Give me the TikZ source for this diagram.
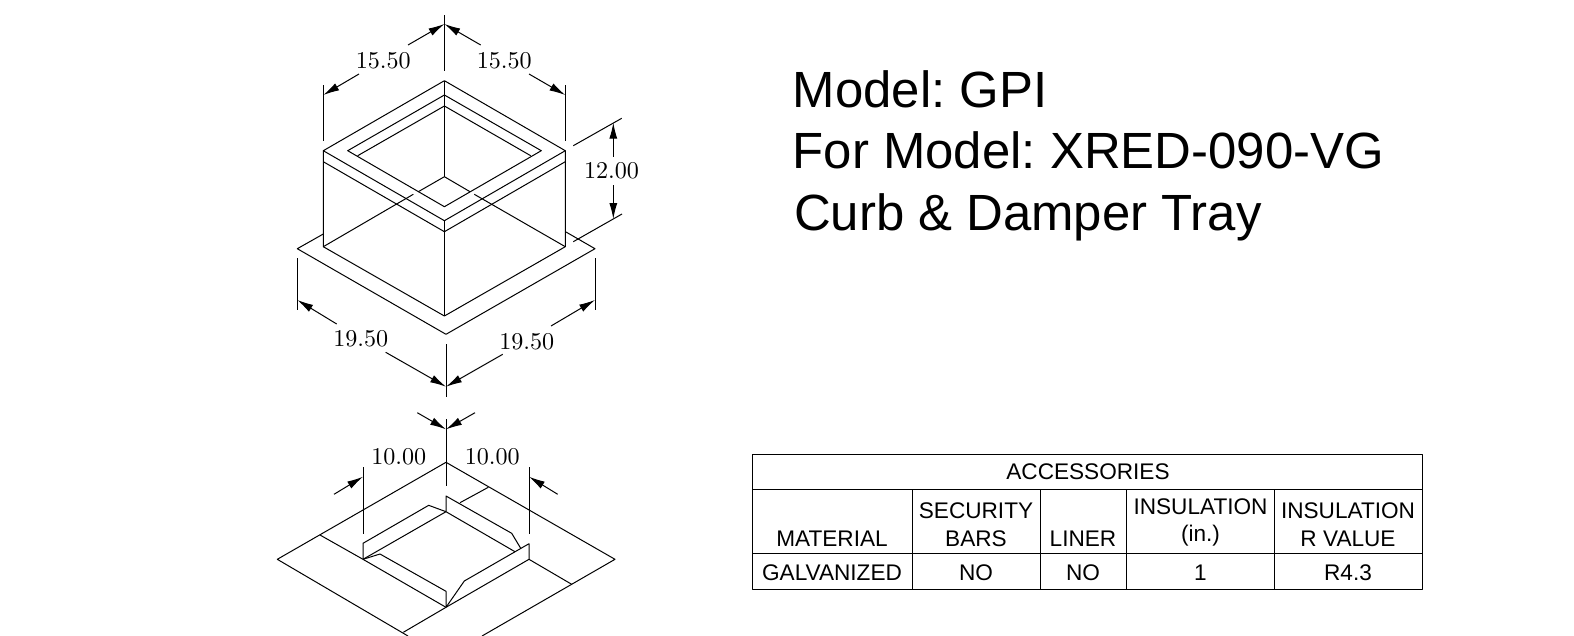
\documentclass[tikz,border=0pt]{standalone}
\usepackage{fontspec}
\setsansfont{Liberation Sans}
\usetikzlibrary{arrows.meta}
\newcommand{\dimval}[1]{\scalebox{2.41}{#1}}
\tikzset{
  dimline/.style={line width=1pt,{Latex[length=16pt,width=8pt]}-},
  dimtext/.style={font=\fontsize{10}{12}\selectfont,inner sep=0pt},
  titletext/.style={font=\fontsize{50.9}{51}\selectfont\sffamily\frenchspacing,anchor=base west,inner sep=0pt},
  celltext/.style={font=\fontsize{22.6}{26}\selectfont\sffamily,anchor=base,inner sep=0pt},
}
\begin{document}
\begin{tikzpicture}[x=1pt,y=-1pt,line width=1pt,line join=round]
\useasboundingbox (0,0) rectangle (1574,635);
\clip (0,0) rectangle (1574,635);
% curb
\coordinate (T) at (444.4,80.7);
\coordinate (L) at (323.3,150.7);
\coordinate (R) at (565.3,150.7);
\coordinate (B) at (444.4,220.7);
\coordinate (C) at (444.4,176.7);
\draw (T) -- (L) -- (B) -- (R) -- cycle;
\draw (444.4,95) -- (347.7,150.7) -- (444.4,206.7) -- (541.3,150.7) -- cycle;
\draw (357.7,155.7) -- (444.4,106) -- (530.7,155.7);
\draw (T) -- (C);
\draw (418.3,191.7) -- (C) -- (470,191.7);
\draw (413.3,194.3) -- (323.3,246.7);
\draw (474.3,194.3) -- (565.3,246.7);
\draw (L) -- (323.3,246.7) -- (444.4,316) -- (565.3,246.7) -- (R);
\draw (323.3,161.7) -- (444.4,231.7) -- (565.3,161.7);
\draw (B) -- (444.4,316);
% flange
\draw (323.3,234) -- (297.3,248.7) -- (446,334.3) -- (595,248.7) -- (566,232);
% dimensions top
\draw (444.4,15) -- (444.4,71);
\draw (323.3,85) -- (323.3,141);
\draw (565.3,85) -- (565.3,141);
\draw [dimline] (444.4,24) -- (408,45);
\draw [dimline] (444.4,24) -- (480.7,45);
\draw [dimline] (323.3,95) -- (359,74);
\draw [dimline] (565.3,95) -- (529,74);
\node [dimtext] (wleft) at (383.3,60.5) {\dimval{15.50}};
\node [dimtext] (wright) at (504.3,60.5) {\dimval{15.50}};
% height
\draw (573.3,145.7) -- (621.7,118.3);
\draw (573.3,241.7) -- (622,214);
\draw [dimline] (613.3,122.7) -- (613.3,156.7);
\draw [dimline] (613.3,219) -- (613.3,185);
\node [dimtext] (height) at (611.5,171) {\dimval{12.00}};
% dimensions flange
\draw (297.3,258.3) -- (297.3,310);
\draw (595,258.3) -- (595,310);
\draw (446,344.3) -- (446,396.7);
\draw [dimline] (297.3,300) -- (336.7,324);
\draw [dimline] (446,386.7) -- (385.7,352.3);
\draw [dimline] (446,386.7) -- (502.7,354.3);
\draw [dimline] (595,300) -- (551,326);
\node [dimtext] (fleft) at (360.7,338.3) {\dimval{19.50}};
\node [dimtext] (fright) at (526.7,341.7) {\dimval{19.50}};
% damper tray
\draw (408,636) -- (277.3,559.3) -- (446,462.3) -- (615,559.3) -- (482,636);
\draw (320,535) -- (363,559.3) -- (446,607.3) -- (529,559.3) -- (571.7,584.3);
\draw (403.3,632.3) -- (446,607.3);
\draw (363,559.3) -- (446,511.7) -- (515,551.7);
\draw (460,502.7) -- (488.3,487.3);
\draw (363,559.3) -- (363,543.3) -- (428.7,505.3) -- (446,511.7) -- (446,496) -- (511.7,533.3) -- (520.7,548.3);
\draw (363,559.3) -- (380,554) -- (446,591.3) -- (446,607.3) -- (464.3,581) -- (529,543.7) -- (529,559.3);
% dimensions tray
\draw (446,419.3) -- (446,486);
\draw (363,467.3) -- (363,534.3);
\draw (529,467.3) -- (529,534.3);
\draw [dimline] (446,429.3) -- (417.3,412.7);
\draw [dimline] (446,429.3) -- (475,412.7);
\draw [dimline] (363,476.7) -- (334,494.3);
\draw [dimline] (529,476.7) -- (557.7,494.3);
\node [dimtext] (tleft) at (398.8,456.5) {\dimval{10.00}};
\node [dimtext] (tright) at (492.2,456.5) {\dimval{10.00}};
% title
\node [titletext] (model) at (792.3,107.5) {Model: GPI};
\node [titletext] (formodel) at (792.3,168.5) {For Model: XRED-090-VG};
\node [titletext] (tray) at (793.5,230.5) {Curb \& Damper Tray};
% table
\draw (752.5,454.5) rectangle (1422.6,589.5);
\draw (752.5,489.5) -- (1422.6,489.5);
\draw (752.5,553.5) -- (1422.6,553.5);
\foreach \x in {912.5,1040.5,1126.8,1274.5} \draw (\x,489.5) -- (\x,589.5);
\node [celltext] (acc) at (1088,479) {ACCESSORIES};
\node [celltext] (mat) at (832,546) {MATERIAL};
\node [celltext] (sec) at (976,518) {SECURITY};
\node [celltext] (bars) at (976,546) {BARS};
\node [celltext] (liner) at (1083,546) {LINER};
\node [celltext] (ins) at (1200.5,514) {INSULATION};
\node [celltext] (inch) at (1200.5,541) {(in.)};
\node [celltext] (insr) at (1348,518) {INSULATION};
\node [celltext] (rval) at (1348,546) {R VALUE};
\node [celltext] (galv) at (832,580) {GALVANIZED};
\node [celltext] (secno) at (976,580) {NO};
\node [celltext] (linno) at (1083,580) {NO};
\node [celltext] (one) at (1200.5,580) {1};
\node [celltext] (rfour) at (1348,580) {R4.3};
\end{tikzpicture}
\end{document}
